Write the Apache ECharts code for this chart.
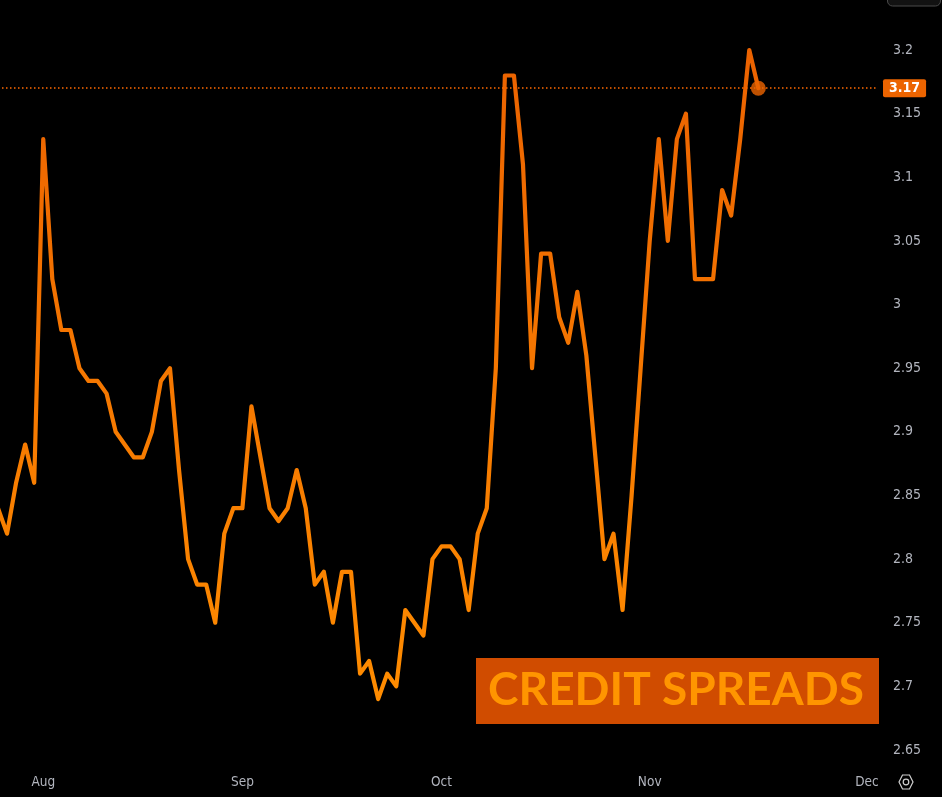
<!DOCTYPE html>
<html>
<head>
<meta charset="utf-8">
<script src="https://cdn.jsdelivr.net/npm/echarts@6/dist/echarts.min.js"></script>
<style>
html,body{margin:0;padding:0;background:#000;overflow:hidden;width:942px;height:797px;}
#chart{position:absolute;left:-5px;top:-14px;width:947px;height:811px;}
</style>
</head>
<body>
<div id="chart"></div>
<script>
// Credit spread values, one per trading day (index 0 is just left of the visible area)
const spreadValues = [
  2.84, 2.82, 2.86, 2.89, 2.86, 3.13, 3.02, 2.98, 2.98, 2.95,
  2.94, 2.94, 2.93, 2.90, 2.89, 2.88, 2.88, 2.90, 2.94, 2.95,
  2.87, 2.80, 2.78, 2.78, 2.75, 2.82, 2.84, 2.84, 2.92, 2.88,
  2.84, 2.83, 2.84, 2.87, 2.84, 2.78, 2.79, 2.75, 2.79, 2.79,
  2.71, 2.72, 2.69, 2.71, 2.70, 2.76, 2.75, 2.74, 2.80, 2.81,
  2.81, 2.80, 2.76, 2.82, 2.84, 2.95, 3.18, 3.18, 3.11, 2.95,
  3.04, 3.04, 2.99, 2.97, 3.01, 2.96, 2.88, 2.80, 2.82, 2.76,
  2.85, 2.95, 3.05, 3.13, 3.05, 3.13, 3.15, 3.02, 3.02, 3.02,
  3.09, 3.07, 3.13, 3.20, 3.17
];
// Month tick labels and the day index at which each appears
const monthNames = ['Aug', 'Sep', 'Oct', 'Nov', 'Dec'];
const monthIndex = [5, 27, 49, 72, 96];
const totalSlots = 98;
const yTicks = { min: 2.65, max: 3.25, step: 0.05 };
const titleText = 'CREDIT SPREADS';

const categories = [];
for (let i = 0; i < totalSlots; i++) {
  const m = monthIndex.indexOf(i);
  categories.push(m >= 0 ? monthNames[m] : '');
}
const lastIdx = spreadValues.length - 1;
const lastVal = spreadValues[lastIdx];

// chart container is shifted by (-5, -14) relative to the page
const OX = 5, OY = 14;

const chart = echarts.init(document.getElementById('chart'), null, { renderer: 'canvas' });
const labelColor = '#b2b5be';
const labelFont = 'DejaVu Sans Condensed, DejaVu Sans';
const option = {
  backgroundColor: '#000000',
  animation: false,
  grid: { left: 0, right: 66, top: 0.4, bottom: 47, containLabel: false },
  xAxis: {
    type: 'category',
    data: categories,
    boundaryGap: false,
    axisLine: { show: false },
    axisTick: { show: false },
    splitLine: { show: false },
    axisLabel: {
      interval: 0,
      color: labelColor,
      fontSize: 13.5,
      fontFamily: labelFont,
      margin: 25,
      formatter: v => v
    }
  },
  yAxis: {
    type: 'value',
    position: 'right',
    min: yTicks.min,
    max: yTicks.max,
    interval: yTicks.step,
    axisLine: { show: false },
    axisTick: { show: false },
    splitLine: { show: false },
    axisLabel: {
      color: labelColor,
      fontSize: 14,
      fontFamily: labelFont,
      margin: 17,
      showMaxLabel: false,
      formatter: v => String(parseFloat(v.toFixed(2)))
    }
  },
  series: [
    {
      type: 'line',
      data: spreadValues,
      showSymbol: false,
      symbol: 'none',
      lineStyle: {
        width: 4.2,
        cap: 'round',
        join: 'round',
        color: new echarts.graphic.LinearGradient(0, 0, 0, 1, [
          { offset: 0, color: '#EB6200' },
          { offset: 1, color: '#FF8C00' }
        ])
      },
      markLine: {
        silent: true,
        symbol: ['none', 'none'],
        lineStyle: { type: [1.5, 2.5], width: 1.5, color: '#FF6A00', opacity: 1 },
        label: {
          show: true,
          position: 'end',
          distance: 7,
          formatter: () => lastVal.toFixed(2),
          backgroundColor: '#EC6400',
          color: '#ffffff',
          fontWeight: 'bold',
          fontSize: 14,
          fontFamily: labelFont,
          padding: [2, 6, 2, 6],
          borderRadius: 2
        },
        data: [{ yAxis: lastVal }]
      }
    },
    {
      type: 'scatter',
      data: [[lastIdx, lastVal]],
      symbol: 'circle',
      symbolSize: 15,
      itemStyle: { color: '#EC6400' },
      z: 5
    }
  ],
  graphic: [
    {
      type: 'rect',
      shape: { x: 476 + OX, y: 658 + OY, width: 403, height: 66 },
      style: { fill: '#D04C00' },
      z: 10
    },
    {
      type: 'text',
      x: 676 + OX, y: 690 + OY,
      style: {
        text: titleText,
        fill: '#FF9500',
        font: 'bold 46px Lato',
        textAlign: 'center',
        textVerticalAlign: 'middle'
      },
      z: 11
    },
    {
      type: 'rect',
      shape: { x: 887.5 + OX, y: -20 + OY, width: 53, height: 26, r: 5 },
      style: { fill: '#121212', stroke: '#4a4a4a', lineWidth: 1 },
      z: 10
    },
    {
      type: 'polygon',
      shape: { points: [[899 + OX, 782 + OY], [902.5 + OX, 775 + OY], [909.5 + OX, 775 + OY], [913 + OX, 782 + OY], [909.5 + OX, 789 + OY], [902.5 + OX, 789 + OY]] },
      style: { fill: 'none', stroke: '#d0d0d0', lineWidth: 1.2 },
      z: 10
    },
    {
      type: 'circle',
      shape: { cx: 906 + OX, cy: 782 + OY, r: 2.8 },
      style: { fill: 'none', stroke: '#d0d0d0', lineWidth: 1.2 },
      z: 10
    }
  ]
};
chart.setOption(option);
</script>
</body>
</html>
